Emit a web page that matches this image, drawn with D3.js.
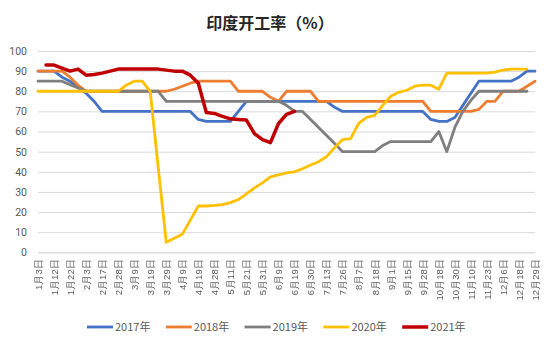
<!DOCTYPE html>
<html>
<head>
<meta charset="utf-8">
<script src="https://cdn.jsdelivr.net/npm/d3@7"></script>
<style>
  html, body { margin: 0; padding: 0; background: #fff; }
  svg { display: block; font-family: "Noto Sans CJK SC", "Noto Sans", sans-serif; }
</style>
</head>
<body>
<svg id="chart" width="550" height="347"></svg>
<script>
// Date labels shown on the category axis (every second data point)
const tickLabels = ["1月3日","1月12日","1月22日","2月3日","2月17日","2月28日","3月9日","3月19日","3月29日","4月9日","4月19日","4月28日","5月11日","5月21日","5月31日","6月9日","6月19日","6月30日","7月13日","7月26日","8月7日","8月18日","9月1日","9月15日","9月28日","10月18日","10月30日","11月10日","11月23日","12月6日","12月18日","12月29日"];

const seriesNames = ["2017年","2018年","2019年","2020年","2021年"];
const seriesColors = ["#4472C4","#ED7D31","#7F7F7F","#FFC000","#C00000"];

// Operating rate (%), one value per data point (63 points)
const s2017 = [90,90,90,87,85,82,79,75,70,70, 70,70,70,70,70,70,70,70,70,70, 66,65,65,65,65,70,75,75,75,75, 75,75,75,75,75,75,75,72,70,70, 70,70,70,70,70,70,70,70,70,66, 65,65,67,73,79,85,85,85,85,85, 87,90,90];
const s2018 = [90,90,90,90,87,83,80,80,80,80, 80,80,80,80,80,80,80,81,82.5,84, 85,85,85,85,85,80,80,80,80,77, 75,80,80,80,80,75,75,75,75,75, 75,75,75,75,75,75,75,75,75,70, 70,70,70,70,70,71,75,75,80,80, 80,82.5,85];
const s2019 = [85,85,85,85,83.3,81.7,80,80,80,80, 80,80,80,80,80,80,75,75,75,75, 75,75,75,75,75,75,75,75,75,75, 75,73,70,70,66,62,58,54,50,50, 50,50,50,53,55,55,55,55,55,55, 60,50,62,70,75.5,80,80,80,80,80, 80,80,null];
const s2020 = [80,80,80,80,80,80,80,80,80,80, 80,83,85,85,80,42,5,7,9,16, 23,23,23.3,23.7,24.7,26.2,29,32,34.5,37.5, 38.5,39.5,40,41.5,43.4,45,47.5,52,56,56.5, 64,67,68,73,77.5,79.5,80.5,82.5,83,83, 81,89,89,89,89,89,89,89.5,90.5,91, 91,91,null];
const s2021 = [null,93,93,91.5,90,91,88,88.3,89,90, 91,91,91,91,91,91,90.5,90,90,88, 84,69.4,69,67.5,66.3,66,65.7,59,56,54.5, 64,68.5,70,null,null,null,null,null,null,null, null,null,null,null,null,null,null,null,null,null, null,null,null,null,null,null,null,null,null,null, null,null,null];

const yTicks = [0,10,20,30,40,50,60,70,80,90,100];

const allSeries = [s2017, s2018, s2019, s2020, s2021];
const nPoints = s2017.length;

const svg = d3.select("#chart");
const plotLeft = 38, plotRight = 535, plotTop = 51, plotBottom = 252.3;

const x = d3.scaleLinear().domain([0, nPoints - 1]).range([plotLeft, plotRight]);
const y = d3.scaleLinear().domain([0, 100]).range([plotBottom, plotTop]);

// Title
svg.append("text")
  .attr("x", 270).attr("y", 29)
  .attr("text-anchor", "middle")
  .attr("font-size", 16).attr("font-weight", "bold")
  .attr("fill", "#262626")
  .text("印度开工率（%）");

// Y axis with horizontal gridlines
const yAxis = svg.append("g")
  .attr("transform", `translate(${plotLeft},0)`)
  .call(d3.axisLeft(y).tickValues(yTicks).tickSize(-(plotRight - plotLeft)).tickPadding(11));
yAxis.select(".domain").remove();
yAxis.selectAll(".tick line").attr("stroke", "#D9D9D9").attr("stroke-width", 1);
yAxis.selectAll(".tick text").attr("fill", "#595959").attr("font-size", 10.5)
  .attr("font-family", "Roboto, 'Noto Sans', sans-serif");

// X axis: labels on every second point, rotated
const xAxis = svg.append("g")
  .attr("transform", `translate(0,${plotBottom})`)
  .attr("color", "#595959")
  .style("opacity", 0.99)
  .call(d3.axisBottom(x)
    .tickValues(tickLabels.map((d, i) => i * 2))
    .tickFormat(d => tickLabels[d / 2])
    .tickSize(0));
xAxis.select(".domain").attr("stroke", "#D9D9D9");
xAxis.selectAll(".tick text")
  .attr("transform", "rotate(-90)")
  .attr("text-anchor", "end")
  .attr("x", -7).attr("y", 0).attr("dy", "0.35em")
  .attr("fill", "#595959").attr("font-size", 9.5);

// Series lines
const line = d3.line()
  .defined(d => d != null)
  .x((d, i) => x(i))
  .y(d => y(d));

svg.append("g").selectAll("path")
  .data(allSeries)
  .join("path")
  .attr("fill", "none")
  .attr("stroke", (d, i) => seriesColors[i])
  .attr("stroke-width", (d, i) => i === 4 ? 3.5 : 2.8)
  .attr("stroke-linejoin", "round")
  .attr("stroke-linecap", "round")
  .attr("d", d => line(d));

// Legend
const legend = svg.append("g").attr("transform", "translate(87,327)");
const item = legend.selectAll("g")
  .data(seriesNames)
  .join("g")
  .attr("transform", (d, i) => `translate(${i * 78.8},0)`);
item.append("line")
  .attr("x1", 0).attr("x2", 26)
  .attr("stroke", (d, i) => seriesColors[i])
  .attr("stroke-width", (d, i) => i === 4 ? 3.5 : 2.8);
item.append("text")
  .attr("x", 28).attr("dy", "0.35em")
  .attr("font-size", 11).attr("fill", "#595959")
  .text(d => d);
</script>
</body>
</html>
